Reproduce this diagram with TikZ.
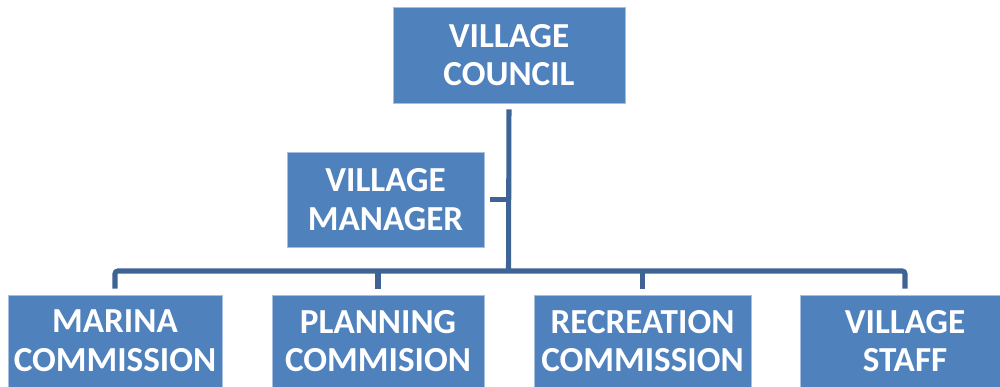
\documentclass[tikz,border=0pt]{standalone}
\usepackage{fontspec}
\setmainfont{Carlito}
\usepackage{tikz}
\usetikzlibrary{positioning, calc}
\definecolor{cBox}{RGB}{79,129,189}
\definecolor{cEdge}{RGB}{167,191,222}
\definecolor{cLine}{RGB}{62,100,150}
\tikzset{
	unit/.style ={rectangle, draw=cEdge, line width=0.6pt, fill=cBox, text=white, align=center, inner sep=0pt,
		font=\fontsize{25}{27.5}\selectfont\bfseries},
	link/.style ={cLine, line width=3.6pt},
}
\begin{document}
\begin{tikzpicture}[x=0.025cm, y=-0.025cm]
	\useasboundingbox (0,0) rectangle (1000,387);
	% top of the chart
	\node[unit, minimum width=5.8cm, minimum height=2.4cm] (council) at (509,55) {VILLAGE\\COUNCIL};
	\node[unit, minimum width=4.925cm, minimum height=2.375cm] (manager) at (385.5,199.5) {VILLAGE\\MANAGER};
	% bottom row
	\node[unit, minimum width=5.35cm, minimum height=2.3cm] (marina) at (115,341) {MARINA\\COMMISSION};
	\node[unit, minimum width=5.3cm, minimum height=2.3cm] (planning) at (378,341) {PLANNING\\COMMISION};
	\node[unit, minimum width=5.425cm, minimum height=2.3cm] (recreation) at (642.5,341) {RECREATION\\COMMISSION};
	\node[unit, minimum width=5.25cm, minimum height=2.3cm] (staff) at (905,341) {VILLAGE\\STAFF};
	\coordinate (bus) at (508.5,271);
	% connectors
	\draw[link, shorten <=0.15cm] (council.south) -- (bus);
	\draw[link, shorten <=0.15cm] (manager.east) -- (manager.east -| bus);
	\draw[link, rounded corners=2pt, shorten <=0.15cm, shorten >=0.15cm] (marina.north) |- (bus) -| (staff.north);
	\draw[link, shorten <=0.15cm] (planning.north) -- (planning.north |- bus);
	\draw[link, shorten <=0.15cm] (recreation.north) -- (recreation.north |- bus);
\end{tikzpicture}
\end{document}
